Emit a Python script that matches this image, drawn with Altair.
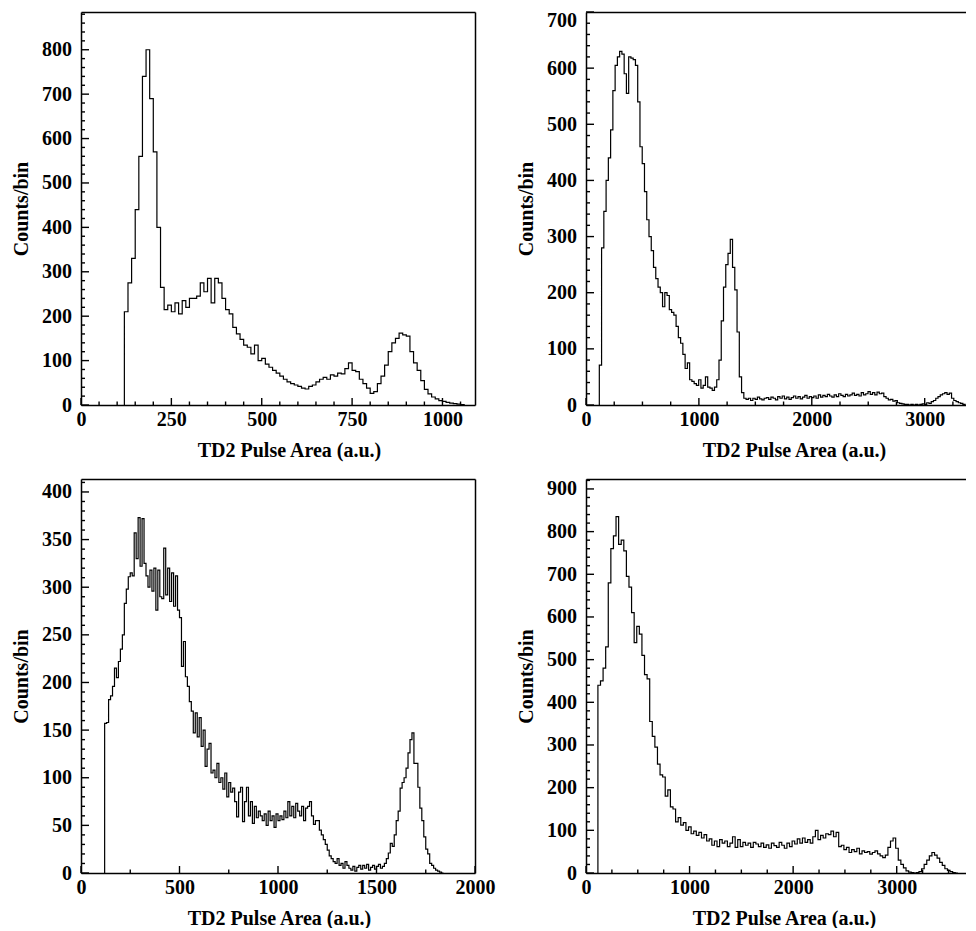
import altair as alt
import pandas as pd

FONT = "Liberation Serif"
XTITLE = "TD2 Pulse Area (a.u.)"
YTITLE = "Counts/bin"

# ---------------- data (counts per bin) ----------------
# Top-left: bins of 10 starting at 120
tl_start, tl_width = 120, 10
tl_counts = [
    210, 275, 330, 440, 560, 740, 800, 690, 570, 400,
    265, 215, 225, 210, 230, 205, 235, 220, 240, 240,
    245, 275, 255, 285, 230, 285, 275, 240, 215, 205,
    175, 160, 148, 135, 130, 115, 135, 100, 105, 92,
    85, 78, 72, 65, 58, 52, 48, 45, 42, 38,
    36, 42, 45, 52, 58, 62, 58, 68, 65, 72,
    70, 82, 95, 78, 75, 58, 48, 38, 26, 30,
    48, 65, 90, 120, 140, 150, 162, 158, 155, 120,
    95, 78, 55, 35, 25, 18, 14, 10, 8, 6,
    4, 3, 2, 1,
]

# Top-right: bins of 20 starting at 118
tr_start, tr_width = 118, 20
tr_counts = [
    71, 280, 345, 400, 440, 490, 560, 605, 620, 630,
    625, 590, 555, 620, 618, 615, 605, 540, 460, 430,
    380, 330, 300, 275, 245, 225, 210, 200, 175, 200,
    195, 170, 165, 160, 140, 120, 110, 90, 65, 75,
    45, 42, 38, 35, 45, 30, 35, 50, 32, 30,
    26, 32, 45, 80, 150, 210, 250, 270, 295, 245,
    205, 130, 50, 22, 12,
    10, 12, 8, 12, 10, 14, 11, 9, 12, 13,
    10, 14, 12, 9, 15, 12, 16, 11, 14, 10,
    13, 16, 12, 15, 11, 14, 17, 12, 15, 13,
    16, 12, 18, 14, 17, 15, 19, 16, 14, 18,
    15, 20, 17, 15, 19, 16, 18, 21, 17, 19,
    16, 22, 18, 20, 24, 19, 22, 18, 23, 20,
    21, 15, 12, 9, 10, 7, 8, 4, 3, 2,
    1, 1, 0, 1, 0, 1, 0, 1, 2, 1,
    4, 3, 6, 8, 12, 15, 18, 20, 22, 19,
    21, 12, 8, 6, 4, 3, 1,
]

# Bottom-left: bins of 10 starting at 120
bl_start, bl_width = 120, 10
bl_counts = [
    157, 158, 182, 186, 196, 215, 205, 222, 235, 250,
    283, 298, 311, 315, 312, 357, 330, 373, 322, 372,
    325, 312, 300, 318, 296, 320, 276, 318, 290, 288,
    341, 292, 320, 285, 315, 280, 312, 276, 268, 217,
    243, 206, 196, 180, 170, 147, 168, 143, 163, 133,
    150, 112, 130, 136, 105, 108, 100, 115, 95, 100,
    88, 105, 80, 95, 85, 89, 75, 59, 85, 90,
    54, 75, 90, 60, 75, 52, 70, 58, 65, 60,
    55, 62, 50, 65, 55, 60, 48, 62, 55, 60,
    56, 65, 58, 75, 60, 70, 58, 73, 65, 60,
    70, 55, 68, 70, 75, 60, 51, 55, 55, 45,
    40, 35, 30, 24, 18, 15, 12, 10, 15, 8,
    10, 5, 12, 8, 5, 3, 7, 2, 6, 8,
    4, 8, 5, 9, 3, 6, 8, 4, 7, 9,
    5, 7, 10, 15, 21, 31, 28, 40, 55, 65,
    89, 95, 100, 110, 126, 140, 147, 115, 115, 90,
    68, 55, 38, 25, 20, 10, 8, 5, 3, 2,
    1, 0,
]

# Bottom-right: bins of 25 starting at 115
br_start, br_width = 115, 25
br_counts = [
    440, 450, 480, 530, 680, 760, 790, 835, 770, 780,
    755, 695, 670, 610, 540, 578, 560, 510, 465, 455,
    355, 320, 295, 255, 230, 225, 180, 195, 155, 150,
    120, 130, 112, 118, 100, 108, 92, 98, 88, 95,
    82, 90, 75, 80, 65, 75, 62, 78, 70, 75,
    62, 70, 85, 60, 78, 62, 72, 65, 70, 60,
    72, 68, 62, 70, 60, 66, 58, 70, 64, 60,
    72, 65, 58, 70, 62, 75, 68, 80, 70, 82,
    72, 78, 70, 85, 100, 78, 88, 82, 92, 90,
    98, 85, 95, 62, 65, 55, 60, 48, 55, 50,
    58, 45, 52, 48, 50, 44, 48, 52, 45, 40,
    36, 42, 60, 75, 82, 58, 30, 20, 12, 5,
    2, 1, 0, 1, 3, 10, 20, 30, 40, 48,
    42, 35, 25, 18, 10, 6, 3, 1, 0,
]

# axis ranges
tl_xmax, tl_ymax = 1090, 885
tr_xmax, tr_ymax = 3366, 700
bl_xmax, bl_ymax = 2000, 413.6
br_xmax, br_ymax = 3669, 923.3

# axis tick values
tl_xmajor = [0, 250, 500, 750, 1000]
tl_xminor = [v for v in range(50, 1090, 50) if v % 250]
tl_ymajor = list(range(0, 900, 100))
tl_yminor = [v for v in range(20, 885, 20) if v % 100]

tr_xmajor = [0, 1000, 2000, 3000]
tr_xminor = [v for v in range(250, 3366, 250) if v % 1000]
tr_ymajor = list(range(0, 800, 100))
tr_yminor = [v for v in range(20, 700, 20) if v % 100]

bl_xmajor = [0, 500, 1000, 1500, 2000]
bl_xminor = [250, 750, 1250, 1750]
bl_ymajor = list(range(0, 450, 50))
bl_yminor = [v for v in range(10, 414, 10) if v % 50]

br_xmajor = [0, 1000, 2000, 3000]
br_xminor = [v for v in range(250, 3669, 250) if v % 1000]
br_ymajor = list(range(0, 1000, 100))
br_yminor = [v for v in range(20, 924, 20) if v % 100]


def step_frame(start, width, counts):
    xs, ys = [start], [0]
    for i, c in enumerate(counts):
        left = start + i * width
        xs += [left, left + width]
        ys += [c, c]
    xs.append(start + len(counts) * width)
    ys.append(0)
    return pd.DataFrame({"x": xs, "y": ys, "k": list(range(len(xs)))})


def panel(df, W, H, xmax, ymax, xmaj, xmin, ymaj, ymin, right_border,
          title_x, top_label=None):
    xs = alt.Scale(domain=[0, xmax], nice=False, zero=False)
    ys = alt.Scale(domain=[0, ymax], nice=False, zero=False)
    yextra = {}
    if top_label is not None:
        yextra["labelOffset"] = {
            "condition": {"test": f"datum.value === {top_label}", "value": 8},
            "value": 0,
        }
    main = alt.Chart(df).mark_line(color="black", strokeWidth=1.2, clip=True).encode(
        x=alt.X("x:Q", scale=xs, axis=alt.Axis(
            orient="bottom", title=XTITLE, values=xmaj, format="d",
            ticks=False, tickSize=0, labelPadding=4, labelFlush=False,
            labelOverlap=False, domain=True, domainWidth=1.5,
            minExtent=22, maxExtent=22, titlePadding=13, titleX=title_x)),
        y=alt.Y("y:Q", scale=ys, axis=alt.Axis(
            orient="left", title=YTITLE, values=ymaj, format="d",
            ticks=False, tickSize=0, labelPadding=9.5, labelFlush=False,
            labelOverlap=False, domain=True, domainWidth=1.5,
            minExtent=40, maxExtent=40, titlePadding=10, **yextra)),
        order=alt.Order("k:Q"),
    )

    # inward tick marks along the bottom edge (length given in pixels)
    def xticks(values, length):
        d = pd.DataFrame({"v": values})
        d["a"] = 0.0
        d["b"] = ymax * length / H
        return alt.Chart(d).mark_rule(
            color="black", strokeWidth=1.4, strokeCap="butt").encode(
            x=alt.X("v:Q", scale=xs, axis=None),
            y=alt.Y("a:Q", scale=ys, axis=None),
            y2=alt.Y2("b:Q"))

    # inward tick marks along the left edge
    def yticks(values, length):
        d = pd.DataFrame({"v": values})
        d["a"] = 0.0
        d["b"] = xmax * length / W
        return alt.Chart(d).mark_rule(
            color="black", strokeWidth=1.4, strokeCap="butt").encode(
            y=alt.Y("v:Q", scale=ys, axis=None),
            x=alt.X("a:Q", scale=xs, axis=None),
            x2=alt.X2("b:Q"))

    frame = alt.Chart(df).mark_line(strokeOpacity=0).encode(
        x=alt.X("x:Q", scale=xs, axis=alt.Axis(
            orient="top", ticks=False, labels=False, domain=True,
            domainWidth=1.5, title=None)),
        y=alt.Y("y:Q", scale=ys, axis=alt.Axis(
            orient="right", ticks=False, labels=False, domain=right_border,
            domainWidth=1.5, title=None)),
        order=alt.Order("k:Q"),
    )
    return alt.layer(
        main,
        xticks(xmaj, 7), xticks(xmin, 3.5),
        yticks(ymaj, 8), yticks(ymin, 4),
        frame,
    ).resolve_axis(x="independent", y="independent").properties(width=W, height=H)


TOP_H, BOT_H = 393, 394
LEFT_W, RIGHT_W = 394, 380

tl = panel(step_frame(tl_start, tl_width, tl_counts), LEFT_W, TOP_H, tl_xmax, tl_ymax,
           tl_xmajor, tl_xminor, tl_ymajor, tl_yminor, True, 208)
tr = panel(step_frame(tr_start, tr_width, tr_counts), RIGHT_W, TOP_H, tr_xmax, tr_ymax,
           tr_xmajor, tr_xminor, tr_ymajor, tr_yminor, False, 208, top_label=700)
bl = panel(step_frame(bl_start, bl_width, bl_counts), LEFT_W, BOT_H, bl_xmax, bl_ymax,
           bl_xmajor, bl_xminor, bl_ymajor, bl_yminor, True, 198)
br = panel(step_frame(br_start, br_width, br_counts), RIGHT_W, BOT_H, br_xmax, br_ymax,
           br_xmajor, br_xminor, br_ymajor, br_yminor, False, 198)

chart = alt.concat(
    tl, tr, bl, br, columns=2, bounds="flush",
    spacing={"row": 74, "column": 111},
).properties(
    padding={"left": 3, "top": 2, "right": 0, "bottom": 0},
    background="white",
).configure_view(strokeWidth=0).configure_axis(
    grid=False,
    labelFont=FONT, labelFontSize=20, labelFontWeight="bold", labelColor="black",
    titleFont=FONT, titleFontSize=20, titleFontWeight="bold", titleColor="black",
    domainColor="black", tickColor="black",
)

chart.save("out.html", embed_options={"renderer": "svg", "actions": False})
